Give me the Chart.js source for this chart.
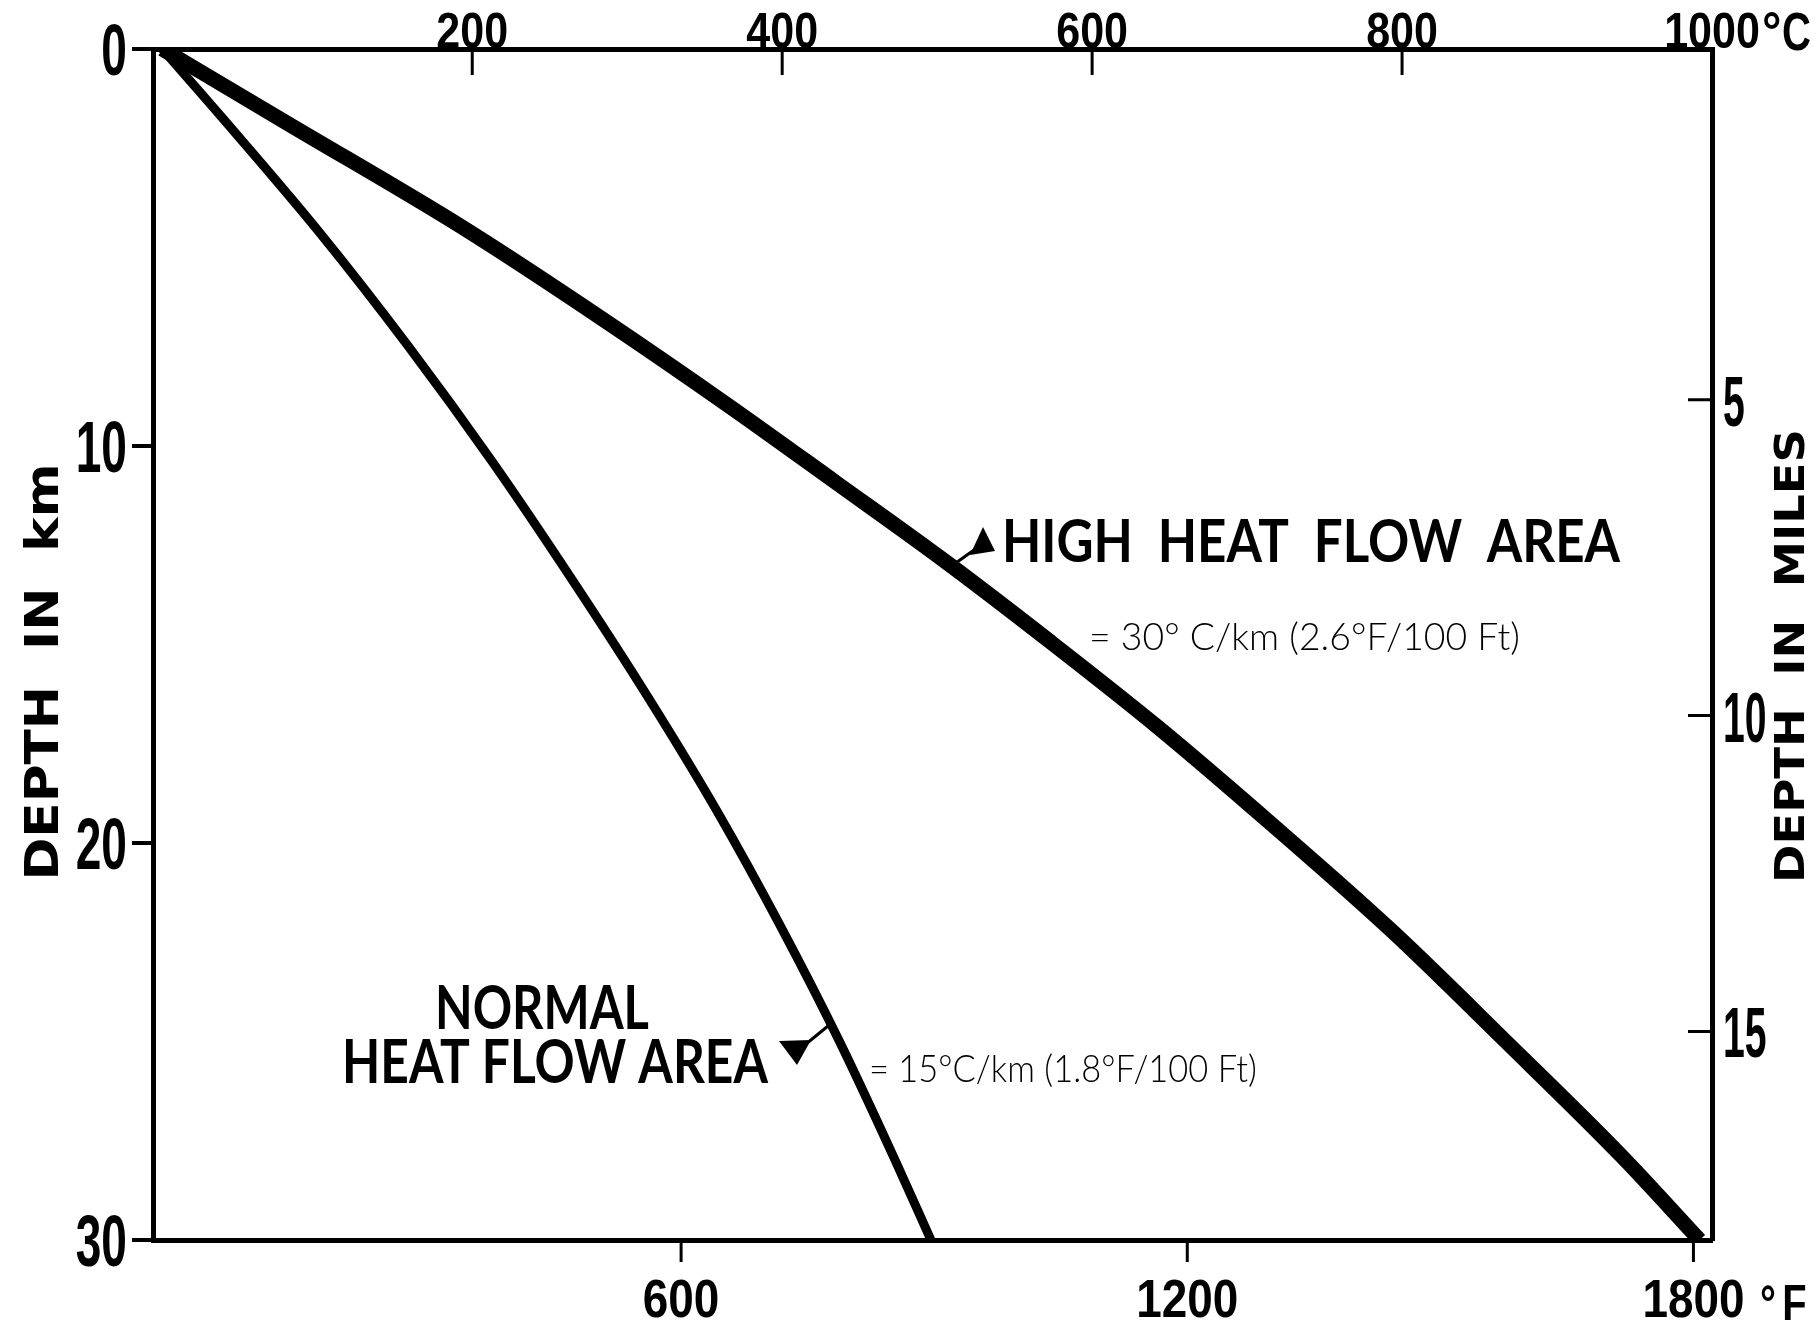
<!DOCTYPE html>
<html>
<head>
<meta charset="utf-8">
<title>Temperature with depth</title>
<script src="https://cdn.jsdelivr.net/npm/chart.js@4.4.1/dist/chart.umd.min.js"></script>
<style>
  html, body { margin: 0; padding: 0; background: #fff; }
  canvas { display: block; }
</style>
</head>
<body>
<canvas id="geotherm" width="1817" height="1330"></canvas>
<script>
// curves: depth (km) and temperature (deg C)
const normalDepthKm = [0, 1.7, 4.6, 7.5, 10.4, 13.4, 16.3, 19.2, 22.1, 25.0, 28.0, 30];
const normalTempC   = [0, 38, 101, 159, 213, 265, 313, 358, 399, 437, 473, 496];

const highDepthKm = [0, 1.9, 4.5, 6.8, 9.0, 10.9, 12.9, 14.9, 17.1, 19.6, 22.2, 25.0, 27.9, 30];
const highTempC   = [0, 82, 194, 284, 366, 434, 505, 572, 643, 718, 793, 867, 942, 992];

// axis ticks
const tempTicksC   = [200, 400, 600, 800, 1000];
const tempTicksF   = [600, 1200, 1800];
const depthTicksKm = [0, 10, 20, 30];
const depthTicksMi = [5, 10, 15];

const digits = "'Liberation Sans', Arial, sans-serif";
const wide = "'DejaVu Sans', 'Liberation Sans', sans-serif";

function toPoints(xs, ys) {
  return xs.map((x, i) => ({ x: x, y: ys[i] }));
}

function setTicks(list) {
  return scale => { scale.ticks = list.map(v => ({ value: v })); };
}

function axisBase() {
  return {
    type: 'linear',
    grid: { drawOnChartArea: false, drawTicks: false, color: 'rgba(0,0,0,0)' },
    border: { display: true, color: '#000', width: 5 },
    ticks: { display: false }
  };
}

// text helper: optional rotation, squeeze to a target width or by a factor
function putText(ctx, txt, x, y, font, opt) {
  opt = opt || {};
  ctx.save();
  ctx.font = font;
  ctx.letterSpacing = opt.spacing || '0px';
  ctx.fillStyle = '#000';
  ctx.textBaseline = 'alphabetic';
  ctx.textAlign = opt.align || 'left';
  ctx.translate(x, y);
  if (opt.rotate) ctx.rotate(opt.rotate);
  if (opt.width) {
    const w = ctx.measureText(txt).width;
    ctx.scale(opt.width / w, 1);
  } else if (opt.sx) {
    ctx.scale(opt.sx, 1);
  }
  ctx.fillText(txt, 0, 0);
  ctx.restore();
}

const decorations = {
  id: 'decorations',
  afterDraw(chart) {
    const { ctx, chartArea: a, scales } = chart;

    // tick marks
    ctx.save();
    ctx.strokeStyle = '#000';
    ctx.lineWidth = 3;
    ctx.beginPath();
    tempTicksC.filter(v => v < 1000).forEach(v => {
      const px = scales.x.getPixelForValue(v);
      ctx.moveTo(px, a.top); ctx.lineTo(px, a.top + 26);
    });
    tempTicksF.forEach(v => {
      const px = scales.x2.getPixelForValue(v);
      ctx.moveTo(px, a.bottom); ctx.lineTo(px, a.bottom + 22);
    });
    depthTicksMi.forEach(v => {
      const py = scales.y2.getPixelForValue(v);
      ctx.moveTo(a.right, py); ctx.lineTo(a.right - 24, py);
    });
    ctx.stroke();
    ctx.lineWidth = 4;
    ctx.beginPath();
    depthTicksKm.forEach(v => {
      const py = scales.y.getPixelForValue(v);
      ctx.moveTo(a.left, py); ctx.lineTo(a.left - 21, py);
    });
    ctx.stroke();
    ctx.restore();

    // tick labels, condensed like the original lettering
    tempTicksC.forEach(v => putText(ctx, String(v), scales.x.getPixelForValue(v), a.top - 1,
      'bold 50px ' + digits, { align: 'center', sx: 0.86 }));
    tempTicksF.forEach(v => putText(ctx, String(v), scales.x2.getPixelForValue(v), a.bottom + 77,
      'bold 54px ' + digits, { align: 'center', sx: 0.85 }));
    depthTicksKm.forEach(v => putText(ctx, String(v), a.left - 26, scales.y.getPixelForValue(v) + 26,
      'bold 72px ' + digits, { align: 'right', sx: 0.64 }));
    depthTicksMi.forEach(v => putText(ctx, String(v), a.right + 11, scales.y2.getPixelForValue(v) + 26,
      'bold 70px ' + digits, { align: 'left', sx: 0.56 }));

    // units after the last tick labels
    putText(ctx, '\u00b0', 1762, 50, 'bold 54px ' + digits, { sx: 0.9 });
    putText(ctx, 'C', 1782, 50, 'bold 54px ' + digits, { width: 29 });
    putText(ctx, '\u00b0F', 1760, 1320, 'bold 50px ' + digits, { width: 53, spacing: '8px' });

    // axis titles
    putText(ctx, 'DEPTH  IN  km', 58, 672, 'bold 46px ' + wide,
      { rotate: -Math.PI / 2, align: 'center', width: 417 });
    putText(ctx, 'DEPTH  IN  MILES', 1804, 656, 'bold 40px ' + wide,
      { rotate: -Math.PI / 2, align: 'center', width: 454 });

    // curve labels
    putText(ctx, 'HIGH  HEAT  FLOW  AREA', 1002, 562, 'bold 60px Lato, ' + wide, { width: 618 });
    putText(ctx, '= 30\u00b0 C/km (2.6\u00b0F/100 Ft)', 1089, 650, '300 38px Lato, ' + wide, { width: 431 });
    putText(ctx, 'NORMAL', 435, 1029, 'bold 62px Lato, ' + wide, { width: 214 });
    putText(ctx, 'HEAT FLOW AREA', 342, 1083, 'bold 62px Lato, ' + wide, { width: 426 });
    putText(ctx, '= 15\u00b0C/km (1.8\u00b0F/100 Ft)', 869, 1082, '300 38px Lato, ' + wide, { width: 388 });

    // leader arrows from labels to curves
    ctx.save();
    ctx.fillStyle = '#000';
    ctx.strokeStyle = '#000';
    ctx.lineWidth = 3;
    ctx.beginPath();
    ctx.moveTo(946, 570); ctx.lineTo(974, 550);
    ctx.moveTo(806, 1044); ctx.lineTo(828, 1026);
    ctx.stroke();
    ctx.beginPath();
    ctx.moveTo(970, 555); ctx.lineTo(983, 527); ctx.lineTo(995, 551); ctx.closePath();
    ctx.moveTo(779, 1041); ctx.lineTo(797, 1065); ctx.lineTo(811, 1040); ctx.closePath();
    ctx.fill();
    ctx.restore();
  }
};

new Chart(document.getElementById('geotherm'), {
  type: 'scatter',
  data: {
    datasets: [
      {
        label: 'High heat flow area',
        data: toPoints(highTempC, highDepthKm),
        showLine: true,
        borderColor: '#000',
        borderWidth: 15,
        pointRadius: 0,
        cubicInterpolationMode: 'monotone',
        xAxisID: 'x',
        yAxisID: 'y'
      },
      {
        label: 'Normal heat flow area',
        data: toPoints(normalTempC, normalDepthKm),
        showLine: true,
        borderColor: '#000',
        borderWidth: 9,
        pointRadius: 0,
        cubicInterpolationMode: 'monotone',
        xAxisID: 'x',
        yAxisID: 'y'
      }
    ]
  },
  options: {
    responsive: false,
    animation: false,
    devicePixelRatio: 1,
    layout: { padding: 0 },
    plugins: { legend: { display: false }, tooltip: { enabled: false } },
    scales: {
      x: Object.assign(axisBase(), {
        position: 'top', min: -6, max: 1000,
        afterBuildTicks: setTicks(tempTicksC),
        afterFit: s => { s.height = 49; }
      }),
      x2: Object.assign(axisBase(), {
        position: 'bottom', min: -26, max: 1822,
        afterBuildTicks: setTicks(tempTicksF),
        afterFit: s => { s.height = 90; }
      }),
      y: Object.assign(axisBase(), {
        position: 'left', reverse: true, min: 0, max: 30,
        afterBuildTicks: setTicks(depthTicksKm),
        afterFit: s => { s.width = 153; }
      }),
      y2: Object.assign(axisBase(), {
        position: 'right', reverse: true, min: -0.55, max: 18.3,
        afterBuildTicks: setTicks(depthTicksMi),
        afterFit: s => { s.width = 105; }
      })
    }
  },
  plugins: [decorations]
});
</script>
</body>
</html>
